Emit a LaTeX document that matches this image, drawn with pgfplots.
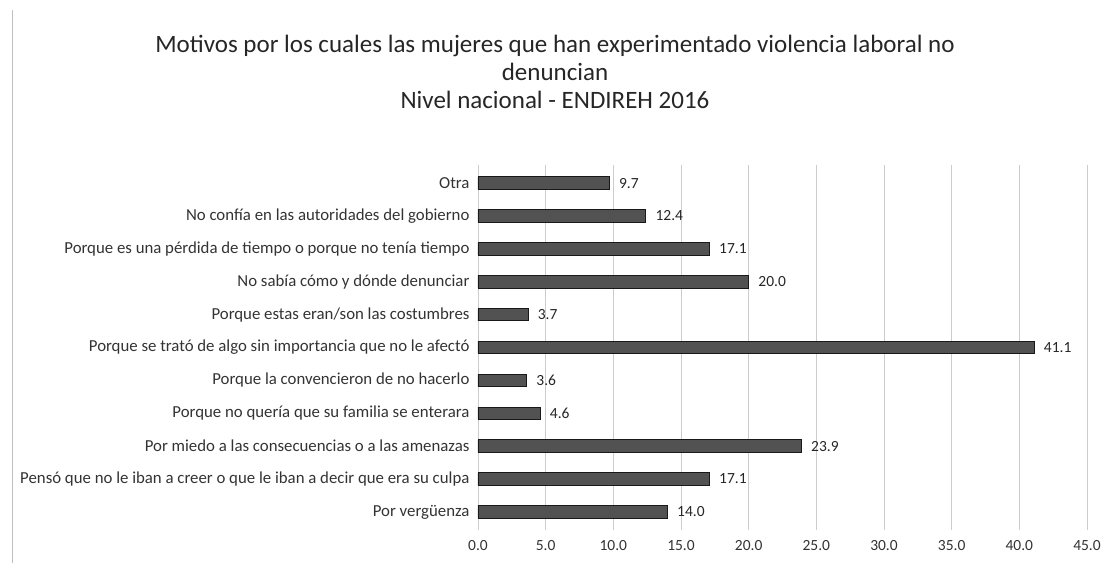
\documentclass[border=0pt]{standalone}
\usepackage{pgfplots}
\pgfplotsset{compat=1.18}
\usepackage{fontspec}
\setmainfont{Carlito}
\begin{document}
\begin{tikzpicture}
\path[use as bounding box] (0,0) rectangle (1109pt,563pt);
\draw[black!25, line width=0.8pt] (12pt,0pt) -- (12pt,553pt);
\node[font=\fontsize{25}{29}\selectfont, text=black!85] at (555pt,517pt) {Motivos por los cuales las mujeres que han experimentado violencia laboral no};
\node[font=\fontsize{25}{29}\selectfont, text=black!85] at (555pt,491pt) {denuncian};
\node[font=\fontsize{25}{29}\selectfont, text=black!85] at (555pt,463pt) {Nivel nacional - ENDIREH 2016};
\begin{axis}[
  at={(478pt,33pt)}, anchor=south west,
  scale only axis, width=609pt, height=365pt,
  xbar, bar width=12.5pt,
  xmin=0, xmax=45, ymin=0.45, ymax=11.55,
  xtick={0,5,...,45},
  /pgf/number format/assume math mode=true,
  ytick={1,...,11},
  yticklabels={{Por vergüenza},
    {Pensó que no le iban a creer o que le iban a decir que era su culpa},
    {Por miedo a las consecuencias o a las amenazas},
    {Porque no quería que su familia se enterara},
    {Porque la convencieron de no hacerlo},
    {Porque se trató de algo sin importancia que no le afectó},
    {Porque estas eran/son las costumbres},
    {No sabía cómo y dónde denunciar},
    {Porque es una pérdida de tiempo o porque no tenía tiempo},
    {No confía en las autoridades del gobierno},
    {Otra}},
  yticklabel style={font=\fontsize{16.8}{19}\selectfont, text=black!80, xshift=-5pt},
  xticklabel style={font=\fontsize{15.5}{18}\selectfont, text=black!80, yshift=-7pt,
    /pgf/number format/.cd, fixed, fixed zerofill, precision=1},
  major tick length=0pt,
  axis line style={draw=none},
  xmajorgrids, grid style={black!20, line width=0.6pt},
  nodes near coords,
  nodes near coords style={font=\fontsize{15.5}{18}\selectfont, text=black!85, xshift=6pt,
    /pgf/number format/.cd, fixed, fixed zerofill, precision=1, assume math mode=true},
  clip=false,
]
\addplot[fill=black!68, draw=black!90, line width=0.8pt] coordinates {
  (14.0,1) (17.1,2) (23.9,3) (4.6,4) (3.6,5) (41.1,6) (3.7,7) (20.0,8) (17.1,9) (12.4,10) (9.7,11)
};
\end{axis}
\end{tikzpicture}
\end{document}
